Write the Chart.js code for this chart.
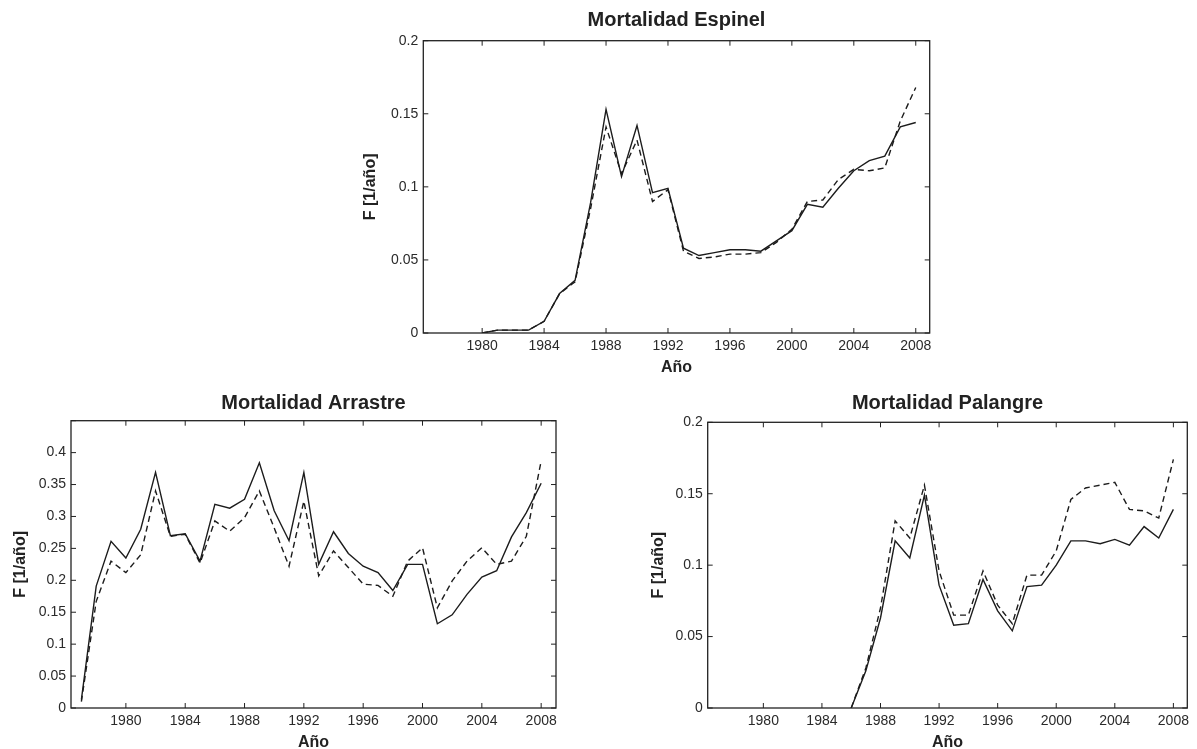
<!DOCTYPE html>
<html>
<head>
<meta charset="utf-8">
<script src="https://cdn.jsdelivr.net/npm/chart.js@4.4.0/dist/chart.umd.min.js"></script>
<style>
  html, body { margin: 0; background: #fff; overflow: hidden; width: 1197px; height: 749px; }
  canvas { position: absolute; }
</style>
</head>
<body>
<canvas id="espinel"></canvas>
<canvas id="arrastre"></canvas>
<canvas id="palangre"></canvas>
<script>
// Mortalidad Espinel
const yearsEspinel = [1980,1981,1982,1983,1984,1985,1986,1987,1988,1989,1990,1991,1992,1993,1994,1995,1996,1997,1998,1999,2000,2001,2002,2003,2004,2005,2006,2007,2008];
const espinelSolid = [0.000,0.002,0.002,0.002,0.008,0.027,0.036,0.089,0.153,0.107,0.142,0.096,0.099,0.058,0.053,0.055,0.057,0.057,0.056,0.063,0.070,0.088,0.086,0.099,0.111,0.118,0.121,0.141,0.144];
const espinelDashed = [0.000,0.002,0.002,0.002,0.008,0.027,0.035,0.085,0.141,0.109,0.132,0.090,0.098,0.056,0.051,0.052,0.054,0.054,0.055,0.062,0.071,0.090,0.091,0.105,0.112,0.111,0.113,0.145,0.168];

// Mortalidad Arrastre
const yearsArrastre = [1977,1978,1979,1980,1981,1982,1983,1984,1985,1986,1987,1988,1989,1990,1991,1992,1993,1994,1995,1996,1997,1998,1999,2000,2001,2002,2003,2004,2005,2006,2007,2008];
const arrastreSolid = [0.013,0.191,0.261,0.235,0.280,0.369,0.270,0.273,0.230,0.319,0.313,0.327,0.384,0.309,0.262,0.369,0.225,0.276,0.242,0.222,0.212,0.184,0.225,0.225,0.132,0.146,0.178,0.205,0.215,0.268,0.306,0.352];
const arrastreDashed = [0.010,0.167,0.230,0.212,0.240,0.340,0.269,0.272,0.227,0.293,0.277,0.298,0.340,0.282,0.222,0.324,0.207,0.246,0.220,0.194,0.192,0.175,0.230,0.251,0.157,0.199,0.230,0.251,0.225,0.230,0.269,0.387];

// Mortalidad Palangre
const yearsPalangre = [1986,1987,1988,1989,1990,1991,1992,1993,1994,1995,1996,1997,1998,1999,2000,2001,2002,2003,2004,2005,2006,2007,2008];
const palangreSolid = [0.000,0.026,0.063,0.117,0.105,0.149,0.086,0.058,0.059,0.090,0.068,0.054,0.085,0.086,0.100,0.117,0.117,0.115,0.118,0.114,0.127,0.119,0.139];
const palangreDashed = [0.000,0.028,0.070,0.131,0.119,0.156,0.096,0.065,0.065,0.096,0.072,0.059,0.093,0.093,0.110,0.146,0.154,0.156,0.158,0.139,0.138,0.133,0.174];

// tick labels
const xTickYears = [1980,1984,1988,1992,1996,2000,2004,2008];
const yTicks02 = [0,0.05,0.1,0.15,0.2];
const yTicks045 = [0,0.05,0.1,0.15,0.2,0.25,0.3,0.35,0.4,0.45];

Chart.defaults.font.family = '"Liberation Sans", Arial, sans-serif';
Chart.defaults.color = '#222';

// box with inward ticks on all four sides
const boxTicks = {
  id: 'boxTicks',
  afterDatasetsDraw(chart) {
    const {ctx, chartArea: a, scales: {x, y}} = chart;
    ctx.save();
    ctx.strokeStyle = '#222';
    ctx.lineWidth = 1;
    ctx.beginPath();
    x.ticks.forEach(t => {
      const px = x.getPixelForValue(t.value);
      ctx.moveTo(px, a.bottom); ctx.lineTo(px, a.bottom - 5);
      ctx.moveTo(px, a.top); ctx.lineTo(px, a.top + 5);
    });
    y.ticks.forEach(t => {
      const py = y.getPixelForValue(t.value);
      ctx.moveTo(a.left, py); ctx.lineTo(a.left + 5, py);
      ctx.moveTo(a.right, py); ctx.lineTo(a.right - 5, py);
    });
    ctx.stroke();
    ctx.lineWidth = 1.3;
    ctx.strokeRect(a.left, a.top, a.right - a.left, a.bottom - a.top);
    ctx.restore();
  }
};

function panel(id, pos, title, years, solid, dashed, yMax, yTicks) {
  const cv = document.getElementById(id);
  const left = Math.round(pos.yLabel - 13.6);
  const top = Math.round(pos.title - 16);
  const axisW = pos.left - left;
  const w = Math.round(pos.right + axisW) - left;
  const h = Math.round(pos.bottom + 44) - top;
  cv.width = w; cv.height = h;
  cv.style.left = left + 'px';
  cv.style.top = top + 'px';

  const line = (vals, dash) => ({
    data: years.map((yr, i) => ({x: yr, y: vals[i]})),
    borderColor: '#1c1c1c',
    borderWidth: 1.4,
    borderDash: dash,
    pointRadius: 0,
    tension: 0
  });

  new Chart(cv, {
    type: 'line',
    data: { datasets: [line(solid, []), line(dashed, [6, 4])] },
    options: {
      responsive: false,
      animation: false,
      layout: { padding: { left: 0, right: axisW, top: 0, bottom: 0 } },
      plugins: {
        legend: { display: false },
        tooltip: { enabled: false },
        title: {
          display: true, text: title, fullSize: false, color: '#222',
          font: { size: 20, weight: 'bold' },
          padding: { top: 4, bottom: pos.top - top - 28 }
        }
      },
      scales: {
        x: {
          type: 'linear', min: pos.xMin, max: pos.xMax,
          grid: { display: false, drawTicks: false },
          border: { display: false },
          afterBuildTicks: s => { s.ticks = xTickYears.map(v => ({value: v})); },
          afterFit: s => { s.height = 44; },
          ticks: { font: { size: 14 }, color: '#2a2a2a', padding: 5, maxRotation: 0, autoSkip: false,
                   callback: v => String(v) },
          title: { display: true, text: 'Año', color: '#222', font: { size: 16, weight: 'bold' },
                   padding: { top: 0, bottom: 0 } }
        },
        y: {
          type: 'linear', min: 0, max: yMax,
          grid: { display: false, drawTicks: false },
          border: { display: false },
          afterBuildTicks: s => { s.ticks = yTicks.map(v => ({value: v})); },
          afterFit: s => { s.width = axisW; },
          ticks: { font: { size: 14 }, color: '#2a2a2a', padding: 5,
                   callback: v => v > 0.42 ? '' : String(+v.toFixed(2)) },
          title: { display: true, text: 'F [1/año]', color: '#222', font: { size: 16, weight: 'bold' },
                   padding: { top: 4, bottom: 0 } }
        }
      }
    },
    plugins: [boxTicks]
  });
}

panel('espinel', {left: 423.3, right: 930, top: 40.7, bottom: 333.3, title: 20, yLabel: 371, xMin: 1976.2, xMax: 2008.9},
  'Mortalidad Espinel', yearsEspinel, espinelSolid, espinelDashed, 0.2, yTicks02);
panel('arrastre', {left: 71, right: 555.7, top: 420.7, bottom: 708.3, title: 403, yLabel: 20.8, xMin: 1976.3, xMax: 2009},
  'Mortalidad Arrastre', yearsArrastre, arrastreSolid, arrastreDashed, 0.45, yTicks045);
panel('palangre', {left: 707.7, right: 1187.5, top: 422.3, bottom: 708.3, title: 403, yLabel: 658.4, xMin: 1976.2, xMax: 2008.95},
  'Mortalidad Palangre', yearsPalangre, palangreSolid, palangreDashed, 0.2, yTicks02);
</script>
</body>
</html>
